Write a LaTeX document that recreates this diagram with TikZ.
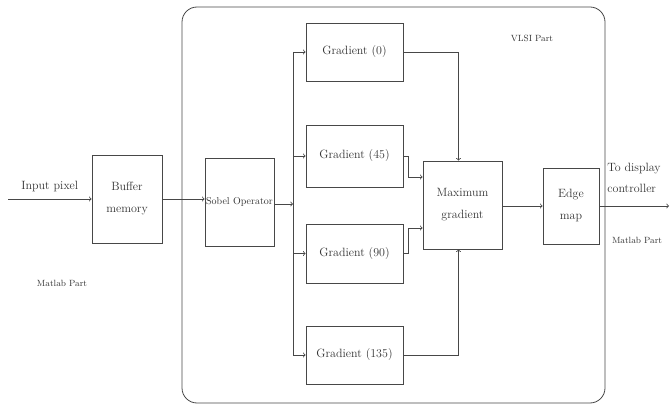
\documentclass[tikz,border=0pt]{standalone}
\usepackage{tikz}
\usetikzlibrary{positioning}
\definecolor{linegray}{HTML}{474747}
\definecolor{textgray}{HTML}{333333}
\tikzset{
	blk/.style={draw=linegray, thick, text=textgray, align=center, font=\fontsize{12}{22}\selectfont, inner sep=1pt},
	wire/.style={draw=linegray, thick, ->},
	note/.style={text=textgray, font=\fontsize{9}{10}\selectfont}
}

\begin{document}
\begin{tikzpicture}[x=1pt, y=-1pt]
	\useasboundingbox (0,0) rectangle (670,406);
	\draw[linegray, thick, rounded corners=15pt] (182,7) rectangle (605,403);
	\node[blk, minimum width=70pt, minimum height=88pt] (buf) at (127,199) {Buffer\\memory};
	\node[blk, minimum width=69pt, minimum height=88pt, font=\fontsize{10}{11}\selectfont] (sobel) at (239.5,202) {Sobel Operator};
	\node[blk, minimum width=97pt, minimum height=58pt] (g0) at (354.5,52) {Gradient (0)};
	\node[blk, minimum width=97pt, minimum height=62pt] (g45) at (354.5,156) {Gradient (45)};
	\node[blk, minimum width=97pt, minimum height=59pt] (g90) at (354.5,253.5) {Gradient (90)};
	\node[blk, minimum width=97pt, minimum height=58pt] (g135) at (354.5,355) {Gradient (135)};
	\node[blk, minimum width=79pt, minimum height=88pt] (maxg) at (462.5,205) {Maximum\\gradient};
	\node[blk, minimum width=56pt, minimum height=76pt] (edge) at (571,206) {Edge\\map};
	\coordinate (in) at (8,199);
	\coordinate (bus) at (293,204);
	\coordinate (out) at (669,206);
	\draw[wire] (in) -- (buf.west) node[midway, above=6pt, blk, draw=none] {Input pixel};
	\draw[wire] (buf.east) -- (buf.east -| sobel.west);
	\draw[wire] (sobel.east |- bus) -- (bus);
	\draw[linegray, thick] (bus |- g0.west) -- (bus |- g135.west);
	\foreach \g in {g0,g45,g90,g135}
		\draw[wire] (bus |- \g.west) -- (\g.west);
	\draw[wire] (g0.east) -| ([xshift=-4pt]maxg.north);
	\draw[wire] (g135.east) -| ([xshift=-4pt]maxg.south);
	\draw[wire] (g45.east) -- ++(5,0) |- ([yshift=28pt]maxg.west);
	\draw[wire] (g90.east) -- ++(5,0) |- ([yshift=-23pt]maxg.west);
	\draw[wire] (maxg.east |- edge) -- (edge.west);
	\draw[wire] (edge.east) -- (out);
	\node[blk, draw=none, align=left, anchor=west, font=\fontsize{12}{21}\selectfont] (todisp) at (606,178) {To display\\controller};
	\node[note] (mlr) at (637,240) {Matlab Part};
	\node[note] (mll) at (62,283) {Matlab Part};
	\node[note] (vlsi) at (532,38) {VLSI Part};
\end{tikzpicture}
\end{document}
